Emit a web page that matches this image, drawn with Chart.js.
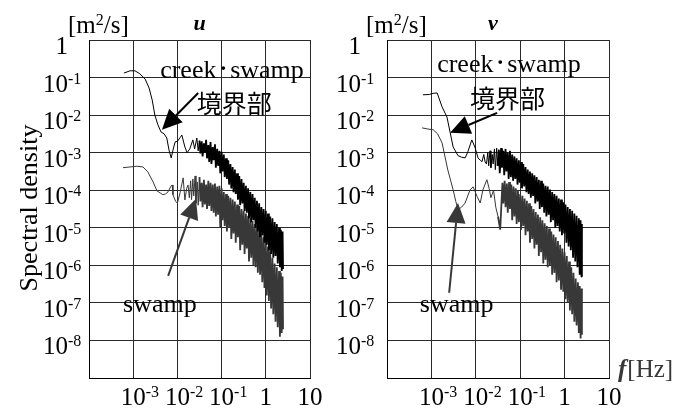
<!DOCTYPE html>
<html>
<head>
<meta charset="utf-8">
<script src="https://cdn.jsdelivr.net/npm/chart.js@4"></script>
<style>
  html, body { margin: 0; padding: 0; background: #fff; }
  #wrap { position: relative; width: 685px; height: 412px; }
  canvas { position: absolute; left: 0; top: 0; }
</style>
</head>
<body>
<div id="wrap">
  <canvas id="chartU" width="685" height="412"></canvas>
  <canvas id="chartV" width="685" height="412"></canvas>
</div>
<script>
// Values: [log10 f (Hz), log10 S (m^2/s)]
const uCreek = [
  [-3.21,-0.88],[-3.07,-0.82],[-2.96,-0.82],[-2.85,-0.90],[-2.73,-1.04],[-2.64,-1.28],[-2.57,-1.60],
  [-2.51,-2.00],[-2.44,-2.26],[-2.37,-2.45],[-2.30,-2.50],[-2.24,-2.61],[-2.19,-2.93],[-2.14,-3.14],
  [-2.10,-2.93],[-2.05,-2.71],[-2.00,-2.70],[-1.94,-2.60],[-1.90,-2.53],[-1.83,-2.85],[-1.78,-3.00],
  [-1.72,-2.90],[-1.65,-2.66],[-1.61,-2.90],[-1.56,-2.61],
  [-1.53,-2.95],[-1.50,-2.68],[-1.48,-3.02],[-1.45,-2.70],[-1.43,-3.10],[-1.40,-2.75],[-1.38,-3.00],
  [-1.35,-2.66],[-1.33,-3.15],[-1.30,-2.80],[-1.28,-3.25],[-1.25,-2.72],[-1.23,-3.30],[-1.20,-2.85],
  [-1.18,-3.20],[-1.15,-2.78],[-1.13,-3.40],[-1.10,-2.90],[-1.08,-3.35],[-1.05,-2.95],[-1.03,-3.55],
  [-1.00,-2.98],[-0.98,-3.50],[-0.95,-3.05],[-0.93,-3.65],[-0.90,-3.15],[-0.88,-3.70],[-0.85,-3.20],
  [-0.83,-3.85],[-0.80,-3.30],[-0.78,-3.95],[-0.75,-3.38],[-0.73,-4.05],[-0.70,-3.45],[-0.68,-4.10],
  [-0.65,-3.55],[-0.63,-4.25],[-0.60,-3.62],[-0.58,-4.40],[-0.55,-3.70],[-0.53,-4.35],[-0.50,-3.80],
  [-0.48,-4.55],[-0.45,-3.88],[-0.43,-4.60],[-0.40,-3.95],[-0.38,-4.75],[-0.35,-4.05],[-0.33,-4.85],
  [-0.30,-4.10],[-0.28,-4.80],[-0.25,-4.20],[-0.23,-5.00],[-0.20,-4.28],[-0.18,-5.10],[-0.15,-4.35],
  [-0.13,-5.25],[-0.10,-4.45],[-0.08,-5.20],[-0.05,-4.50],[-0.03,-5.40],[0.00,-4.55],[0.02,-5.45],
  [0.05,-4.62],[0.07,-5.60],[0.10,-4.70],[0.12,-5.70],[0.15,-4.75],[0.17,-5.80],[0.20,-4.85],
  [0.22,-5.75],[0.25,-4.90],[0.27,-5.95],[0.30,-5.00],[0.32,-6.05],[0.34,-5.05],[0.36,-6.15],
  [0.38,-5.10],[0.39,-6.10]
];
const uSwamp = [
  [-3.23,-3.40],[-3.07,-3.38],[-2.92,-3.36],[-2.78,-3.38],[-2.67,-3.51],[-2.55,-3.78],[-2.46,-4.02],
  [-2.39,-4.07],[-2.33,-4.12],[-2.27,-4.10],[-2.21,-4.04],[-2.15,-3.90],[-2.12,-3.86],[-2.10,-4.12],
  [-2.04,-4.30],[-2.00,-4.34],[-1.94,-4.07],[-1.87,-3.67],[-1.83,-4.26],[-1.79,-3.95],[-1.76,-3.86],
  [-1.73,-4.20],[-1.70,-3.75],[-1.68,-4.25],[-1.65,-3.70],[-1.63,-4.15],[-1.60,-3.62],[-1.58,-4.35],
  [-1.55,-3.78],[-1.53,-4.40],[-1.50,-3.65],[-1.48,-4.30],[-1.45,-3.80],[-1.43,-4.45],[-1.40,-3.72],
  [-1.38,-4.38],[-1.35,-3.85],[-1.33,-4.50],[-1.30,-3.75],[-1.28,-4.42],[-1.25,-3.80],[-1.23,-4.55],
  [-1.20,-3.85],[-1.18,-4.60],[-1.15,-3.82],[-1.13,-4.70],[-1.10,-3.90],[-1.08,-4.65],[-1.05,-3.88],
  [-1.03,-5.00],[-1.00,-3.95],[-0.98,-4.80],[-0.95,-4.05],[-0.93,-4.95],[-0.90,-4.10],[-0.88,-5.10],
  [-0.85,-4.15],[-0.83,-5.00],[-0.80,-4.20],[-0.78,-5.30],[-0.75,-4.25],[-0.73,-5.15],[-0.70,-4.30],
  [-0.68,-5.40],[-0.65,-4.38],[-0.63,-5.25],[-0.60,-4.42],[-0.58,-5.60],[-0.55,-4.50],[-0.53,-5.45],
  [-0.50,-4.55],[-0.48,-5.70],[-0.45,-4.62],[-0.43,-5.55],[-0.40,-4.68],[-0.38,-5.90],[-0.35,-4.75],
  [-0.33,-5.80],[-0.30,-4.82],[-0.28,-6.00],[-0.25,-4.90],[-0.23,-6.05],[-0.20,-4.95],[-0.18,-6.20],
  [-0.15,-5.02],[-0.13,-6.25],[-0.10,-5.15],[-0.08,-6.45],[-0.05,-5.25],[-0.03,-6.60],[0.00,-5.35],
  [0.02,-6.80],[0.05,-5.50],[0.07,-6.95],[0.10,-5.65],[0.12,-7.15],[0.15,-5.80],[0.17,-7.30],
  [0.20,-5.95],[0.22,-7.50],[0.25,-6.05],[0.27,-7.65],[0.30,-6.15],[0.32,-7.90],[0.34,-6.20],
  [0.36,-7.80],[0.38,-6.30],[0.39,-7.70]
];
const vCreek = [
  [-3.19,-1.46],[-3.05,-1.45],[-2.96,-1.42],[-2.87,-1.41],[-2.76,-1.78],[-2.65,-2.05],[-2.58,-2.45],
  [-2.51,-2.85],[-2.40,-3.08],[-2.32,-3.12],[-2.24,-3.14],[-2.18,-2.98],[-2.09,-2.66],[-2.02,-2.85],
  [-1.95,-3.14],[-1.90,-3.20],[-1.86,-3.24],[-1.82,-3.05],[-1.79,-3.25],
  [-1.76,-3.30],[-1.73,-3.00],[-1.71,-3.35],[-1.68,-2.95],[-1.66,-3.40],[-1.63,-3.05],[-1.61,-3.30],
  [-1.58,-2.90],[-1.56,-3.45],[-1.53,-2.88],[-1.51,-3.35],[-1.48,-2.92],[-1.46,-3.55],[-1.43,-2.88],
  [-1.41,-3.40],[-1.38,-2.95],[-1.36,-3.60],[-1.33,-2.90],[-1.31,-3.50],[-1.28,-3.00],[-1.26,-3.70],
  [-1.23,-2.95],[-1.21,-3.65],[-1.18,-3.05],[-1.16,-3.75],[-1.13,-3.10],[-1.11,-3.70],[-1.08,-3.15],
  [-1.06,-3.85],[-1.03,-3.20],[-1.01,-3.80],[-0.98,-3.25],[-0.96,-3.95],[-0.93,-3.30],[-0.91,-3.90],
  [-0.88,-3.38],[-0.86,-4.05],[-0.83,-3.45],[-0.81,-4.10],[-0.78,-3.50],[-0.76,-4.20],[-0.73,-3.55],
  [-0.71,-4.15],[-0.68,-3.60],[-0.66,-4.35],[-0.63,-3.65],[-0.61,-4.30],[-0.58,-3.72],[-0.56,-4.50],
  [-0.53,-3.75],[-0.51,-4.45],[-0.48,-3.82],[-0.46,-4.60],[-0.43,-3.88],[-0.41,-4.70],[-0.38,-3.90],
  [-0.36,-4.65],[-0.33,-3.98],[-0.31,-4.85],[-0.28,-4.05],[-0.26,-4.80],[-0.23,-4.10],[-0.21,-5.00],
  [-0.18,-4.15],[-0.16,-4.95],[-0.13,-4.22],[-0.11,-5.10],[-0.08,-4.25],[-0.06,-5.20],[-0.03,-4.32],
  [-0.01,-5.15],[0.02,-4.38],[0.04,-5.40],[0.07,-4.45],[0.09,-5.50],[0.12,-4.50],[0.14,-5.60],
  [0.17,-4.55],[0.19,-5.80],[0.22,-4.62],[0.24,-5.90],[0.27,-4.68],[0.29,-6.05],[0.32,-4.75],
  [0.34,-6.25],[0.36,-4.80],[0.38,-6.30],[0.39,-4.90]
];
const vSwamp = [
  [-3.21,-2.34],[-3.08,-2.37],[-2.96,-2.39],[-2.86,-2.50],[-2.76,-2.74],[-2.63,-3.46],[-2.51,-3.99],
  [-2.45,-4.30],[-2.40,-4.52],[-2.32,-4.45],[-2.24,-4.34],[-2.13,-3.99],[-2.06,-3.91],[-1.97,-4.17],
  [-1.90,-4.34],[-1.84,-3.99],[-1.75,-3.72],[-1.70,-3.95],[-1.66,-4.20],[-1.60,-4.00],[-1.55,-4.45],
  [-1.50,-4.70],[-1.45,-5.05],[-1.42,-4.30],
  [-1.40,-3.80],[-1.38,-4.35],[-1.35,-3.75],[-1.33,-4.45],[-1.30,-3.82],[-1.28,-4.60],[-1.25,-3.78],
  [-1.23,-4.50],[-1.20,-3.85],[-1.18,-4.80],[-1.15,-3.90],[-1.13,-4.70],[-1.10,-3.95],[-1.08,-4.90],
  [-1.05,-4.02],[-1.03,-4.85],[-1.00,-4.10],[-0.98,-5.05],[-0.95,-4.15],[-0.93,-4.95],[-0.90,-4.22],
  [-0.88,-5.20],[-0.85,-4.28],[-0.83,-5.10],[-0.80,-4.35],[-0.78,-5.40],[-0.75,-4.42],[-0.73,-5.30],
  [-0.70,-4.50],[-0.68,-5.55],[-0.65,-4.58],[-0.63,-5.45],[-0.60,-4.65],[-0.58,-5.75],[-0.55,-4.72],
  [-0.53,-5.65],[-0.50,-4.80],[-0.48,-5.95],[-0.45,-4.88],[-0.43,-5.85],[-0.40,-4.95],[-0.38,-6.05],
  [-0.35,-5.02],[-0.33,-6.00],[-0.30,-5.10],[-0.28,-6.25],[-0.25,-5.18],[-0.23,-6.20],[-0.20,-5.25],
  [-0.18,-6.45],[-0.15,-5.35],[-0.13,-6.40],[-0.10,-5.45],[-0.08,-6.65],[-0.05,-5.55],[-0.03,-6.70],
  [0.00,-5.65],[0.02,-6.90],[0.05,-5.75],[0.07,-7.00],[0.10,-5.90],[0.12,-7.20],[0.15,-6.05],
  [0.17,-7.30],[0.20,-6.20],[0.22,-7.50],[0.25,-6.35],[0.27,-7.60],[0.30,-6.45],[0.32,-7.80],
  [0.34,-6.55],[0.36,-7.95],[0.38,-6.62],[0.39,-7.85]
];

// axis ticks and labels (base, exponent)
const xTicks = [1e-4, 1e-3, 1e-2, 1e-1, 1, 10];
const xTickLabels = [['', ''], ['10', '-3'], ['10', '-2'], ['10', '-1'], ['1', ''], ['10', '']];
const yTicks = [1e-9, 1e-8, 1e-7, 1e-6, 1e-5, 1e-4, 1e-3, 1e-2, 1e-1, 1];
const yTickLabels = [['', ''], ['10', '-8'], ['10', '-7'], ['10', '-6'], ['10', '-5'], ['10', '-4'],
                     ['10', '-3'], ['10', '-2'], ['10', '-1'], ['1', '']];

const SERIF = '"Liberation Serif", "Times New Roman", serif';
const CJK = '"Noto Sans CJK JP", "Noto Sans CJK SC", sans-serif';
const DENSE_FROM = Math.pow(10, -1.52); // above this the spectra are a dense band

function toXY(arr) {
  return arr.map(p => ({ x: Math.pow(10, p[0]), y: Math.pow(10, p[1]) }));
}

function drawSup(ctx, base, sup, x, y, align) {
  ctx.font = '25px ' + SERIF;
  const w = ctx.measureText(base).width;
  let x0 = x;
  if (align === 'right') x0 = x - w;
  else if (align === 'center') x0 = x - w / 2;
  ctx.textAlign = 'left';
  ctx.textBaseline = 'alphabetic';
  ctx.fillText(base, x0, y);
  if (sup) {
    ctx.font = '16px ' + SERIF;
    ctx.fillText(sup, x0 + w, y - 8);
  }
}

function drawArrow(ctx, x1, y1, x2, y2, color) {
  const ang = Math.atan2(y2 - y1, x2 - x1);
  const len = 20, half = 9.5;
  const bx = x2 - len * Math.cos(ang), by = y2 - len * Math.sin(ang);
  ctx.strokeStyle = color;
  ctx.fillStyle = color;
  ctx.lineWidth = 2;
  ctx.beginPath();
  ctx.moveTo(x1, y1);
  ctx.lineTo(bx, by);
  ctx.stroke();
  ctx.beginPath();
  ctx.moveTo(x2, y2);
  ctx.lineTo(bx + half * Math.sin(ang), by - half * Math.cos(ang));
  ctx.lineTo(bx - half * Math.sin(ang), by + half * Math.cos(ang));
  ctx.closePath();
  ctx.fill();
}

function textPlugin(panel) {
  return {
    id: 'panelText',
    afterDraw(chart) {
      const ctx = chart.ctx, a = chart.chartArea;
      const xs = chart.scales.x, ys = chart.scales.y;
      const px = lf => xs.getPixelForValue(Math.pow(10, lf));
      const py = ls => ys.getPixelForValue(Math.pow(10, ls));
      ctx.save();
      ctx.fillStyle = '#000';

      yTicks.forEach((v, i) => {
        const [b, e] = yTickLabels[i];
        if (b) drawSup(ctx, b, e, a.left - panel.yGap, ys.getPixelForValue(v) + 14, 'right');
      });
      xTicks.forEach((v, i) => {
        const [b, e] = xTickLabels[i];
        if (b) drawSup(ctx, b, e, xs.getPixelForValue(v), a.bottom + 27, 'center');
      });

      // unit and panel title
      ctx.font = '25px ' + SERIF;
      const mw = ctx.measureText('[m').width;
      ctx.font = '16px ' + SERIF;
      const sw = ctx.measureText('2').width;
      drawSup(ctx, '[m', '2', a.left - 21, 33, 'left');
      ctx.font = '25px ' + SERIF;
      ctx.fillText('/s]', a.left - 21 + mw + sw, 33);

      ctx.font = 'bold italic 22px ' + SERIF;
      ctx.textAlign = 'center';
      ctx.fillText(panel.title, (a.left + a.right) / 2 + panel.titleDx, 30);

      // curve labels and arrows
      ctx.textAlign = 'left';
      ctx.font = '26px ' + SERIF;
      const cx = px(panel.creekText[0]), cy = py(panel.creekText[1]);
      ctx.fillText('creek', cx, cy);
      ctx.font = '18px ' + CJK;
      ctx.fillText('\u30FB', cx + 54, cy - 3);
      ctx.font = '26px ' + SERIF;
      ctx.fillText('swamp', cx + 70, cy);
      ctx.font = '25px ' + CJK;
      ctx.fillText('境界部', px(panel.boundText[0]), py(panel.boundText[1]));
      ctx.font = '26px ' + SERIF;
      ctx.fillText('swamp', px(panel.swampText[0]), py(panel.swampText[1]));

      const ca = panel.creekArrow, sa = panel.swampArrow;
      drawArrow(ctx, px(ca[0]), py(ca[1]), px(ca[2]), py(ca[3]), '#000');
      drawArrow(ctx, px(sa[0]), py(sa[1]), px(sa[2]), py(sa[3]), '#383838');

      if (panel.yTitle) {
        ctx.save();
        ctx.translate(37, 208);
        ctx.rotate(-Math.PI / 2);
        ctx.font = '26px ' + SERIF;
        ctx.textAlign = 'center';
        ctx.fillStyle = '#000';
        ctx.fillText('Spectral density', 0, 0);
        ctx.restore();
      }
      if (panel.xTitle) {
        ctx.font = 'bold italic 25px ' + SERIF;
        ctx.textAlign = 'left';
        ctx.fillText('f', a.right + 9, a.bottom - 1);
        const fw = ctx.measureText('f').width;
        ctx.font = '25px ' + SERIF;
        ctx.fillText('[Hz]', a.right + 9 + fw + 1, a.bottom - 1);
      }
      ctx.restore();
    }
  };
}

function bandWidth(c) {
  return c.p0.parsed.x >= DENSE_FROM ? 1.8 : 1;
}

function makeChart(canvasId, creek, swamp, panel) {
  const axisBase = {
    type: 'logarithmic',
    ticks: { display: false },
    grid: { color: '#2a2a2a', lineWidth: 1, drawTicks: false },
    border: { display: true, color: '#000', width: 1 }
  };
  new Chart(document.getElementById(canvasId), {
    type: 'line',
    data: {
      datasets: [
        { data: toXY(creek), borderColor: '#000', borderWidth: 1, pointRadius: 0,
          borderJoinStyle: 'bevel', segment: { borderWidth: bandWidth } },
        { data: toXY(swamp), borderColor: '#383838', borderWidth: 1, pointRadius: 0,
          borderJoinStyle: 'bevel', segment: { borderWidth: bandWidth } }
      ]
    },
    options: {
      responsive: false,
      animation: false,
      devicePixelRatio: 1,
      events: [],
      layout: { padding: panel.padding },
      plugins: { legend: { display: false }, tooltip: { enabled: false } },
      scales: {
        x: Object.assign({}, axisBase, {
          min: 1e-4, max: 10,
          afterBuildTicks: s => { s.ticks = xTicks.map(v => ({ value: v })); }
        }),
        y: Object.assign({}, axisBase, {
          min: 1e-9, max: 1,
          afterBuildTicks: s => { s.ticks = yTicks.map(v => ({ value: v })); }
        })
      }
    },
    plugins: [textPlugin(panel)]
  });
}

makeChart('chartU', uCreek, uSwamp, {
  padding: { left: 89, top: 40, right: 375, bottom: 34 },
  title: 'u', titleDx: 0, yGap: 21, yTitle: true, xTitle: false,
  creekText: [-2.39, -1.01], boundText: [-1.56, -1.94], swampText: [-3.23, -7.23],
  creekArrow: [-1.53, -1.41, -2.35, -2.39],
  swampArrow: [-2.21, -6.28, -1.58, -4.23]
});
makeChart('chartV', vCreek, vSwamp, {
  padding: { left: 387, top: 40, right: 76, bottom: 34 },
  title: 'v', titleDx: -5, yGap: 26, yTitle: false, xTitle: true,
  creekText: [-2.87, -0.85], boundText: [-2.13, -1.81], swampText: [-3.26, -7.23],
  creekArrow: [-1.52, -1.94, -2.58, -2.47],
  swampArrow: [-2.60, -6.73, -2.40, -4.34]
});
</script>
</body>
</html>
